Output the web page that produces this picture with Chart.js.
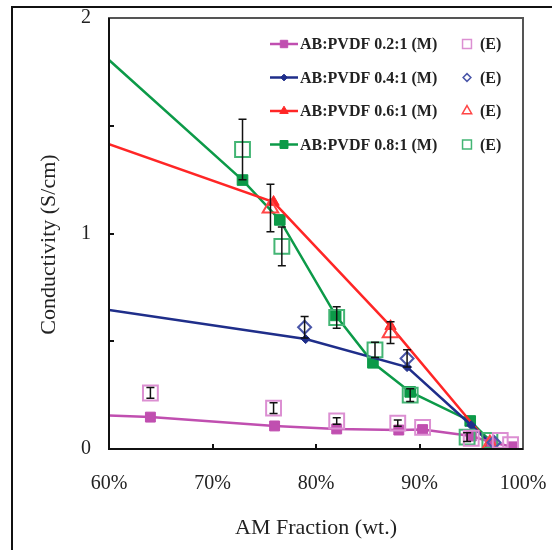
<!DOCTYPE html>
<html>
<head>
<meta charset="utf-8">
<script src="https://cdn.jsdelivr.net/npm/chart.js@4.4.0/dist/chart.umd.min.js"></script>
<style>
  html, body { margin: 0; padding: 0; background: #fff; }
  #wrap { width: 552px; height: 550px; }
</style>
</head>
<body>
<div id="wrap"><canvas id="condChart" width="552" height="550"></canvas></div>
<script>
// tick values
const xTicks = [60, 70, 80, 90, 100];
const yTicks = [0, 0.5, 1, 1.5, 2];

// legend names
const seriesNames = ['AB:PVDF 0.2:1 (M)', 'AB:PVDF 0.4:1 (M)', 'AB:PVDF 0.6:1 (M)', 'AB:PVDF 0.8:1 (M)'];

// model (M) lines
const m02X = [60, 64, 76, 82, 88, 90.3, 95, 97, 99];
const m02Y = [0.155, 0.148, 0.107, 0.093, 0.088, 0.09, 0.06, 0.03, 0.01];
const m04X = [60, 79, 88.8, 95, 97];
const m04Y = [0.645, 0.51, 0.38, 0.11, 0.02];
const m06X = [60, 75.9, 87.2, 96.8];
const m06Y = [1.415, 1.146, 0.57, 0.02];
const m08X = [60, 72.9, 76.5, 81.9, 85.5, 89.1, 94.9, 97];
const m08Y = [1.805, 1.248, 1.063, 0.62, 0.4, 0.265, 0.13, 0.03];

// experimental (E) points with error half-widths
const e02X = [64, 75.9, 82, 87.9, 90.3, 95, 97.8, 98.8];
const e02Y = [0.26, 0.19, 0.13, 0.12, 0.1, 0.05, 0.04, 0.02];
const e02Err = [0.025, 0.025, 0.015, 0.015, 0, 0, 0, 0];
const e04X = [78.9, 88.8, 97.2];
const e04Y = [0.565, 0.42, 0.03];
const e04Err = [0.05, 0.04, 0];
const e06X = [75.6, 87.2, 96.8];
const e06Y = [1.118, 0.54, 0.02];
const e06Err = [0.11, 0.05, 0];
const e08X = [72.9, 76.7, 82, 85.7, 89.1, 94.6, 96.8];
const e08Y = [1.39, 0.94, 0.61, 0.46, 0.25, 0.055, 0.04];
const e08Err = [0.14, 0.09, 0.05, 0.035, 0.03, 0.02, 0];

const mColors = ['#c04fb0', '#1f2e8a', '#ff2626', '#0c9a48'];
const eColors = ['#dc8fd2', '#4955a8', '#ff4545', '#43b574'];
const mStyles = [
  { pointStyle: 'rect', radius: 7 },
  { pointStyle: 'rectRot', radius: 4.5 },
  { pointStyle: 'triangle', radius: 6.5 },
  { pointStyle: 'rect', radius: 7.5 }
];
const eStyles = [
  { pointStyle: 'rect', radius: 10.5 },
  { pointStyle: 'rectRot', radius: 6.5 },
  { pointStyle: 'triangle', radius: 9 },
  { pointStyle: 'rect', radius: 10.5 }
];

const mSeries = [[m02X, m02Y], [m04X, m04Y], [m06X, m06Y], [m08X, m08Y]];
const eSeries = [[e02X, e02Y, e02Err], [e04X, e04Y, e04Err], [e06X, e06Y, e06Err], [e08X, e08Y, e08Err]];

const toPoints = (xs, ys) => xs.map((x, i) => ({ x: x, y: ys[i] }));

const datasets = [];
eSeries.forEach(function (s, i) {
  datasets.push({
    label: seriesNames[i].replace('(M)', '(E)'),
    data: toPoints(s[0], s[1]),
    showLine: false,
    order: 0,
    pointStyle: eStyles[i].pointStyle,
    pointRadius: eStyles[i].radius,
    pointBorderColor: eColors[i],
    pointBackgroundColor: 'rgba(0,0,0,0)',
    pointBorderWidth: 2
  });
});
mSeries.forEach(function (s, i) {
  datasets.push({
    label: seriesNames[i],
    data: toPoints(s[0], s[1]),
    showLine: true,
    order: 1,
    borderColor: mColors[i],
    borderWidth: 2.5,
    tension: 0,
    pointStyle: mStyles[i].pointStyle,
    // first point is the line start at the axis, no marker there
    pointRadius: s[0].map((x, j) => (j === 0 ? 0 : mStyles[i].radius)),
    pointBorderColor: mColors[i],
    pointBackgroundColor: mColors[i],
    pointBorderWidth: 1
  });
});

const serif = 'Liberation Serif';

// outer frame, plot box and inward ticks
const framePlugin = {
  id: 'frame',
  beforeDraw(chart) {
    const ctx = chart.ctx;
    ctx.save();
    ctx.strokeStyle = '#111';
    ctx.lineWidth = 2;
    ctx.beginPath();
    ctx.moveTo(12, 550);
    ctx.lineTo(12, 7);
    ctx.lineTo(552, 7);
    ctx.stroke();
    ctx.restore();
  },
  afterDraw(chart) {
    const { ctx, chartArea: a, scales } = chart;
    ctx.save();
    ctx.strokeStyle = '#555';
    ctx.lineWidth = 2;
    ctx.strokeRect(a.left, a.top, a.right - a.left, a.bottom - a.top);
    ctx.strokeStyle = '#111';
    ctx.beginPath();
    ctx.moveTo(a.left, a.top);
    ctx.lineTo(a.left, a.bottom);
    ctx.lineTo(a.right, a.bottom);
    xTicks.slice(1, -1).forEach(function (v) {
      const px = Math.round(scales.x.getPixelForValue(v));
      ctx.moveTo(px, a.bottom);
      ctx.lineTo(px, a.bottom - 5);
    });
    yTicks.slice(1, -1).forEach(function (v) {
      const py = Math.round(scales.y.getPixelForValue(v));
      ctx.moveTo(a.left, py);
      ctx.lineTo(a.left + 5, py);
    });
    ctx.stroke();
    ctx.restore();
  }
};

// black error bars on the E points
const errorBarPlugin = {
  id: 'errorBars',
  afterDatasetsDraw(chart) {
    const { ctx, scales } = chart;
    ctx.save();
    ctx.strokeStyle = '#111';
    ctx.lineWidth = 1.5;
    eSeries.forEach(function (s) {
      s[0].forEach(function (xv, j) {
        const err = s[2][j];
        if (!err) return;
        const px = scales.x.getPixelForValue(xv);
        const top = scales.y.getPixelForValue(s[1][j] + err);
        const bot = scales.y.getPixelForValue(s[1][j] - err);
        ctx.beginPath();
        ctx.moveTo(px, top);
        ctx.lineTo(px, bot);
        ctx.moveTo(px - 4, top);
        ctx.lineTo(px + 4, top);
        ctx.moveTo(px - 4, bot);
        ctx.lineTo(px + 4, bot);
        ctx.stroke();
      });
    });
    ctx.restore();
  }
};

// two-column legend inside the plot
const legendPlugin = {
  id: 'mLegend',
  afterDraw(chart) {
    const ctx = chart.ctx;
    ctx.save();
    ctx.font = 'bold 16px "' + serif + '"';
    ctx.textBaseline = 'middle';
    seriesNames.forEach(function (name, i) {
      const y = 44 + i * 33.5;
      ctx.strokeStyle = mColors[i];
      ctx.lineWidth = 2.5;
      ctx.beginPath();
      ctx.moveTo(270, y);
      ctx.lineTo(298, y);
      ctx.stroke();
      ctx.fillStyle = mColors[i];
      ctx.lineWidth = 1;
      Chart.helpers.drawPoint(ctx, { pointStyle: mStyles[i].pointStyle, radius: mStyles[i].radius * 0.75, rotation: 0, borderWidth: 1 }, 284, y);
      ctx.fillStyle = '#222';
      ctx.fillText(name, 300, y + 1);
      ctx.strokeStyle = eColors[i];
      ctx.fillStyle = 'rgba(0,0,0,0)';
      ctx.lineWidth = 1.5;
      Chart.helpers.drawPoint(ctx, { pointStyle: eStyles[i].pointStyle, radius: eStyles[i].radius * 0.6, rotation: 0, borderWidth: 1.5 }, 467, y);
      ctx.fillStyle = '#222';
      ctx.fillText('(E)', 480, y + 1);
    });
    ctx.restore();
  }
};

new Chart(document.getElementById('condChart').getContext('2d'), {
  type: 'scatter',
  data: { datasets: datasets },
  plugins: [framePlugin, errorBarPlugin, legendPlugin],
  options: {
    responsive: false,
    animation: false,
    layout: { padding: { left: 0, top: 18, right: 29, bottom: 0 } },
    plugins: {
      legend: { display: false },
      tooltip: { enabled: false }
    },
    scales: {
      x: {
        type: 'linear',
        min: 60,
        max: 100,
        afterFit: function (scale) {
          scale.height = 101;
          scale.paddingLeft = 0;
          scale.paddingRight = 0;
        },
        afterBuildTicks: function (scale) { scale.ticks = xTicks.map(v => ({ value: v })); },
        ticks: {
          callback: v => v + '%',
          color: '#222',
          font: { family: serif, size: 20 },
          padding: 23,
          maxRotation: 0
        },
        grid: { display: false, drawTicks: false },
        border: { display: false },
        title: {
          display: true,
          text: 'AM Fraction (wt.)',
          color: '#222',
          font: { family: serif, size: 22 },
          padding: { top: 0, bottom: 9 }
        }
      },
      y: {
        type: 'linear',
        min: 0,
        max: 2,
        afterFit: function (scale) {
          scale.width = 109;
          scale.paddingTop = 0;
          scale.paddingBottom = 0;
        },
        afterBuildTicks: function (scale) { scale.ticks = yTicks.map(v => ({ value: v })); },
        ticks: {
          callback: v => (Number.isInteger(v) ? v : ''),
          color: '#222',
          font: { family: serif, size: 20 },
          padding: 18
        },
        grid: { display: false, drawTicks: false },
        border: { display: false },
        title: {
          display: true,
          // trailing spaces push the centred title a little lower, as in the source
          text: 'Conductivity (S/cm)    ',
          color: '#222',
          font: { family: serif, size: 22 },
          padding: { top: 36, bottom: 0 }
        }
      }
    }
  }
});
</script>
</body>
</html>
